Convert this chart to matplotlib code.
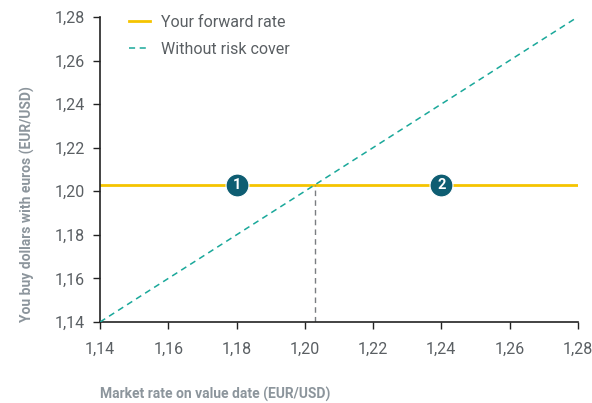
import matplotlib.pyplot as plt
from matplotlib import font_manager

# EUR/USD range shown on both axes
market_rates = [1.14, 1.28]
unhedged_rates = [1.14, 1.28]
forward_rate = 1.203
marker_x = [1.18, 1.24]
marker_labels = ['1', '2']
ticks = [1.14, 1.16, 1.18, 1.20, 1.22, 1.24, 1.26, 1.28]
tick_labels = ['1,14', '1,16', '1,18', '1,20', '1,22', '1,24', '1,26', '1,28']

names = {f.name for f in font_manager.fontManager.ttflist}
family = ['Liberation Sans Narrow', 'DejaVu Sans'] if 'Liberation Sans Narrow' in names else ['Roboto', 'DejaVu Sans']
plt.rcParams['font.family'] = family

yellow = '#f5c400'
teal = '#1aa89a'
dark_teal = '#0e5d72'
grey_text = '#5a5f63'
label_grey = '#8c959c'

fig = plt.figure(figsize=(5.92, 4.03), dpi=100)
ax = fig.add_axes([0.169, 0.201, 0.807, 0.757])

ax.plot([market_rates[0], market_rates[1]], [forward_rate, forward_rate], color=yellow, lw=2,
        label='Your forward rate', zorder=2)
ax.plot(market_rates, unhedged_rates, color=teal, lw=1.1, ls=(0, (4, 3)),
        label='Without risk cover', zorder=3)
ax.plot([forward_rate, forward_rate], [market_rates[0], forward_rate], color='#7a7d80', lw=1,
        ls=(0, (4, 3)), zorder=2)

for x, lab in zip(marker_x, marker_labels):
    ax.plot(x, forward_rate, 'o', ms=16.5, color=dark_teal, mec='white', mew=0.8, zorder=4)
    ax.text(x, forward_rate, lab, color='white', fontsize=10.5, fontweight='bold',
            ha='center', va='center', zorder=5)

ax.set_xlim(1.14, 1.28)
ax.set_ylim(1.14, 1.28)
ax.set_xticks(ticks)
ax.set_xticklabels(tick_labels)
ax.set_yticks(ticks)
ax.set_yticklabels(tick_labels)
ax.tick_params(direction='out', length=5, width=1, colors='#222222', labelcolor=grey_text,
               labelsize=11.5, pad=6)
ax.tick_params(axis='x', pad=9)
for s in ['top', 'right']:
    ax.spines[s].set_visible(False)
for s in ['left', 'bottom']:
    ax.spines[s].set_linewidth(1.2)
    ax.spines[s].set_color('#222222')

ax.set_ylabel('You buy dollars with euros (EUR/USD)', loc='bottom', fontsize=10,
              fontweight='bold', color=label_grey, labelpad=14)
ax.set_xlabel('Market rate on value date (EUR/USD)', loc='left', fontsize=10,
              fontweight='bold', color=label_grey, labelpad=22)

leg = ax.legend(loc='upper left', bbox_to_anchor=(0.03, 1.055), frameon=False, fontsize=11.5,
                handlelength=1.3, labelspacing=0.75, handletextpad=0.7)
for t in leg.get_texts():
    t.set_color(grey_text)

fig.savefig('out.png', dpi=100)
